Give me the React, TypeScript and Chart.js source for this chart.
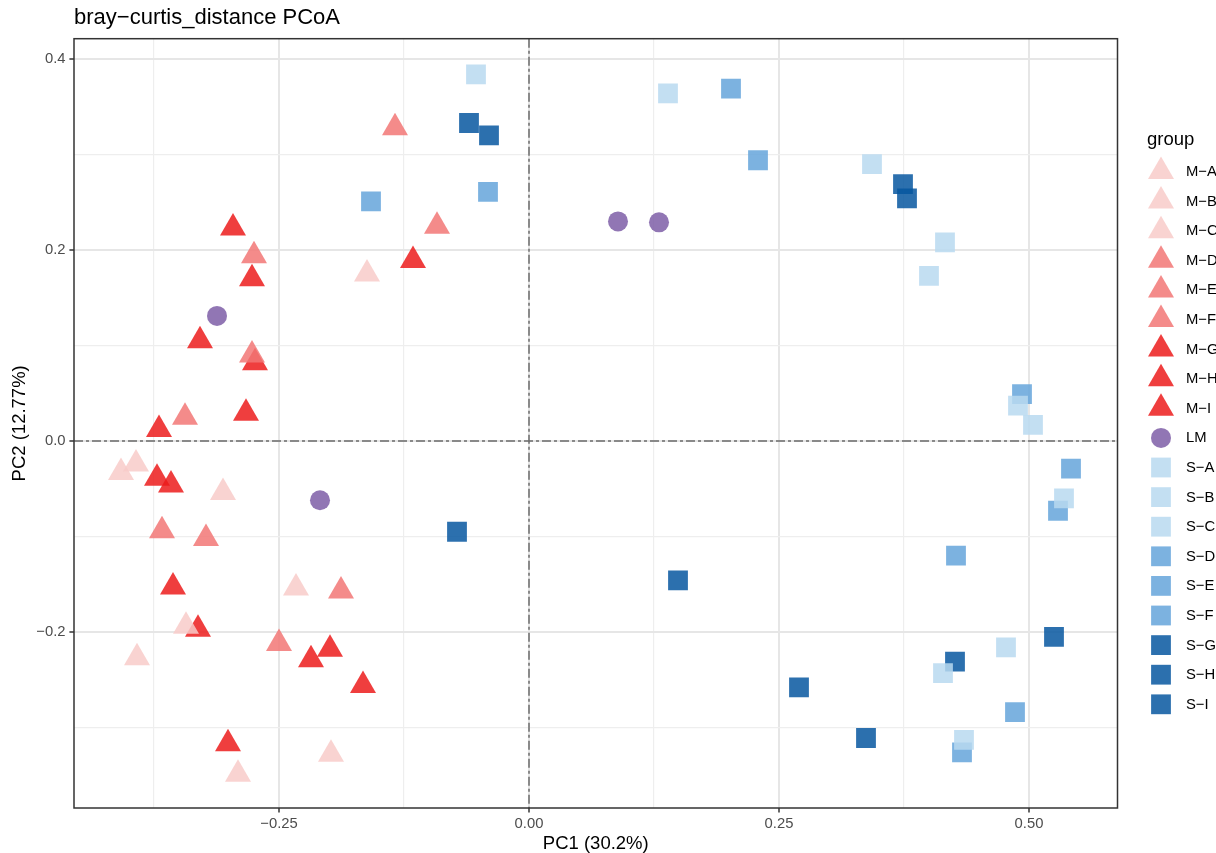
import React, { useEffect, useRef } from 'react';
import { Chart, registerables } from 'chart.js';
import { drawPoint } from 'chart.js/helpers';

Chart.register(...registerables);

const FONT = "'Liberation Sans', Arial, Helvetica, sans-serif";

// ---- data (PC1, PC2) per group ----
const M_A: [number, number][] = [[-0.162, 0.175], [-0.408, -0.033], [-0.393, -0.024]];
const M_B: [number, number][] = [[-0.306, -0.054], [-0.233, -0.154], [-0.343, -0.194]];
const M_C: [number, number][] = [[-0.392, -0.227], [-0.291, -0.349], [-0.198, -0.328]];
const M_D: [number, number][] = [[-0.134, 0.328], [-0.092, 0.225], [-0.275, 0.194]];
const M_E: [number, number][] = [[-0.277, 0.090], [-0.344, 0.025], [-0.367, -0.094]];
const M_F: [number, number][] = [[-0.323, -0.102], [-0.250, -0.212], [-0.188, -0.157]];
const M_G: [number, number][] = [[-0.296, 0.223], [-0.277, 0.170], [-0.329, 0.105], [-0.274, 0.082], [-0.283, 0.029]];
const M_H: [number, number][] = [[-0.370, 0.012], [-0.372, -0.039], [-0.358, -0.046], [-0.356, -0.153], [-0.331, -0.197]];
const M_I: [number, number][] = [[-0.218, -0.229], [-0.199, -0.218], [-0.166, -0.256], [-0.301, -0.317], [-0.116, 0.189]];
const LM: [number, number][] = [[-0.312, 0.131], [-0.209, -0.062], [0.089, 0.230], [0.130, 0.229]];
const S_A: [number, number][] = [[-0.053, 0.384], [0.139, 0.364], [0.343, 0.290], [0.416, 0.208]];
const S_B: [number, number][] = [[0.400, 0.173], [0.489, 0.037], [0.504, 0.017], [0.535, -0.060]];
const S_C: [number, number][] = [[0.477, -0.216], [0.414, -0.243], [0.435, -0.313]];
const S_D: [number, number][] = [[0.202, 0.369], [0.229, 0.294], [-0.158, 0.251], [-0.041, 0.261]];
const S_E: [number, number][] = [[0.493, 0.049], [0.542, -0.029], [0.529, -0.073]];
const S_F: [number, number][] = [[0.427, -0.120], [0.486, -0.284], [0.433, -0.326]];
const S_G: [number, number][] = [[-0.060, 0.333], [-0.040, 0.320], [0.374, 0.269], [0.378, 0.254]];
const S_H: [number, number][] = [[-0.072, -0.095], [0.149, -0.146], [0.525, -0.205]];
const S_I: [number, number][] = [[0.426, -0.231], [0.270, -0.258], [0.337, -0.311]];

const groupNames = ['M−A', 'M−B', 'M−C', 'M−D', 'M−E', 'M−F', 'M−G', 'M−H', 'M−I', 'LM', 'S−A', 'S−B', 'S−C', 'S−D', 'S−E', 'S−F', 'S−G', 'S−H', 'S−I'];
const groupData = [M_A, M_B, M_C, M_D, M_E, M_F, M_G, M_H, M_I, LM, S_A, S_B, S_C, S_D, S_E, S_F, S_G, S_H, S_I];

const C_PINK = 'rgba(248,203,201,0.85)';
const C_SALMON = 'rgba(242,119,117,0.85)';
const C_RED = 'rgba(236,28,28,0.85)';
const C_PURPLE = 'rgba(126,94,167,0.85)';
const C_LBLUE = 'rgba(185,217,240,0.85)';
const C_MBLUE = 'rgba(101,165,218,0.85)';
const C_DBLUE = 'rgba(7,87,160,0.85)';

const groupColors = [C_PINK, C_PINK, C_PINK, C_SALMON, C_SALMON, C_SALMON, C_RED, C_RED, C_RED, C_PURPLE, C_LBLUE, C_LBLUE, C_LBLUE, C_MBLUE, C_MBLUE, C_MBLUE, C_DBLUE, C_DBLUE, C_DBLUE];
const groupShapes = ['triangle', 'triangle', 'triangle', 'triangle', 'triangle', 'triangle', 'triangle', 'triangle', 'triangle', 'circle', 'rect', 'rect', 'rect', 'rect', 'rect', 'rect', 'rect', 'rect', 'rect'];

const X_MIN = -0.455;
const X_MAX = 0.5885;
const Y_MIN = -0.3843;
const Y_MAX = 0.4213;

const radiusFor = (shape: string) => (shape === 'triangle' ? 15 : shape === 'rect' ? 14 : 10);
const fmt = (v: number, d: number) => {
  const s = Math.abs(v).toFixed(d);
  return v < -1e-9 ? '−' + s : s;
};
const isMult = (v: number, m: number) => Math.abs(v / m - Math.round(v / m)) < 1e-6;

const decorPlugin = {
  id: 'decor',
  beforeDatasetsDraw(chart: any) {
    const { ctx, chartArea: a, scales } = chart;
    const x0 = scales.x.getPixelForValue(0);
    const y0 = scales.y.getPixelForValue(0);
    ctx.save();
    ctx.beginPath();
    ctx.rect(a.left, a.top, a.right - a.left, a.bottom - a.top);
    ctx.clip();
    ctx.strokeStyle = '#6b6b6b';
    ctx.lineWidth = 1.5;
    ctx.setLineDash([9, 3, 3, 3]);
    ctx.beginPath();
    ctx.moveTo(x0, a.top);
    ctx.lineTo(x0, a.bottom);
    ctx.stroke();
    ctx.beginPath();
    ctx.moveTo(a.left, y0);
    ctx.lineTo(a.right, y0);
    ctx.stroke();
    ctx.restore();
  },
  afterDraw(chart: any) {
    const { ctx, chartArea: a } = chart;
    ctx.save();
    ctx.strokeStyle = '#333333';
    ctx.lineWidth = 1.5;
    ctx.setLineDash([]);
    ctx.strokeRect(a.left, a.top, a.right - a.left, a.bottom - a.top);

    // legend
    ctx.fillStyle = '#000';
    ctx.textAlign = 'left';
    ctx.textBaseline = 'middle';
    ctx.font = `18.5px ${FONT}`;
    ctx.fillText('group', 1147, 140);
    ctx.font = `14.8px ${FONT}`;
    for (let i = 0; i < groupNames.length; i++) {
      const yy = 172 + i * 29.6;
      ctx.fillStyle = groupColors[i];
      drawPoint(ctx, { pointStyle: groupShapes[i], radius: radiusFor(groupShapes[i]), rotation: 0, borderWidth: 0 } as any, 1161, yy - 0.5);
      ctx.fillStyle = '#000';
      ctx.fillText(groupNames[i], 1186, yy);
    }
    ctx.restore();
  },
};

export default function App() {
  const ref = useRef<HTMLCanvasElement | null>(null);
  useEffect(() => {
    if (!ref.current) return;
    const datasets = groupNames.map((name, i) => ({
      label: name,
      data: groupData[i].map(([x, y]) => ({ x, y })),
      pointStyle: groupShapes[i],
      pointRadius: radiusFor(groupShapes[i]),
      pointHoverRadius: radiusFor(groupShapes[i]),
      backgroundColor: groupColors[i],
      borderColor: groupColors[i],
      borderWidth: 0,
      pointBorderWidth: 0,
      showLine: false,
    }));
    const chart = new Chart(ref.current, {
      type: 'scatter',
      data: { datasets } as any,
      plugins: [decorPlugin],
      options: {
        responsive: false,
        animation: false,
        events: [],
        layout: { padding: { left: 0, right: 98.5, top: 0, bottom: 0 } },
        plugins: {
          legend: { display: false },
          tooltip: { enabled: false },
          title: {
            display: true,
            text: 'bray−curtis_distance PCoA',
            align: 'start',
            fullSize: false,
            color: '#000',
            font: { family: FONT, size: 22, weight: 'normal', lineHeight: 1.2 },
            padding: { top: 4.6, bottom: 7.7 },
          },
        },
        scales: {
          x: {
            type: 'linear',
            position: 'bottom',
            min: X_MIN,
            max: X_MAX,
            border: { display: false },
            grid: {
              color: (c: any) => (isMult(c.tick.value, 0.25) ? '#e6e6e6' : '#eeeeee'),
              lineWidth: (c: any) => (isMult(c.tick.value, 0.25) ? 2 : 1.2),
              tickLength: 4.6,
              tickColor: (c: any) => (isMult(c.tick.value, 0.25) ? '#333333' : 'rgba(0,0,0,0)'),
              tickWidth: 1.5,
            },
            ticks: {
              stepSize: 0.125,
              autoSkip: false,
              maxRotation: 0,
              includeBounds: false,
              padding: 2.5,
              color: '#4d4d4d',
              font: { family: FONT, size: 14.8 },
              callback: (v: any) => (isMult(Number(v), 0.25) ? fmt(Number(v), 2) : ''),
            },
            title: {
              display: true,
              text: 'PC1 (30.2%)',
              color: '#000',
              font: { family: FONT, size: 18.5, lineHeight: 1 },
              padding: { top: 0, bottom: 0 },
            },
            afterFit: (s: any) => {
              s.height = 45;
            },
          },
          y: {
            type: 'linear',
            position: 'left',
            min: Y_MIN,
            max: Y_MAX,
            border: { display: false },
            grid: {
              color: (c: any) => (isMult(c.tick.value, 0.2) ? '#e6e6e6' : '#eeeeee'),
              lineWidth: (c: any) => (isMult(c.tick.value, 0.2) ? 2 : 1.2),
              tickLength: 4.6,
              tickColor: (c: any) => (isMult(c.tick.value, 0.2) ? '#333333' : 'rgba(0,0,0,0)'),
              tickWidth: 1.5,
            },
            ticks: {
              stepSize: 0.1,
              autoSkip: false,
              includeBounds: false,
              padding: 3.9,
              color: '#4d4d4d',
              font: { family: FONT, size: 14.8 },
              callback: (v: any) => (isMult(Number(v), 0.2) ? fmt(Number(v), 1) : ''),
            },
            title: {
              display: true,
              text: 'PC2 (12.77%)',
              color: '#000',
              font: { family: FONT, size: 18.5, lineHeight: 1 },
              padding: { top: 11, bottom: 0 },
            },
            afterFit: (s: any) => {
              s.width = 74;
            },
          },
        },
      } as any,
    });
    return () => chart.destroy();
  }, []);

  return (
    <div style={{ position: 'fixed', left: 0, top: 0, width: 1216, height: 853, overflow: 'hidden', background: '#fff' }}>
      <canvas ref={ref} width={1216} height={853} style={{ display: 'block', width: 1216, height: 853 }} />
    </div>
  );
}
